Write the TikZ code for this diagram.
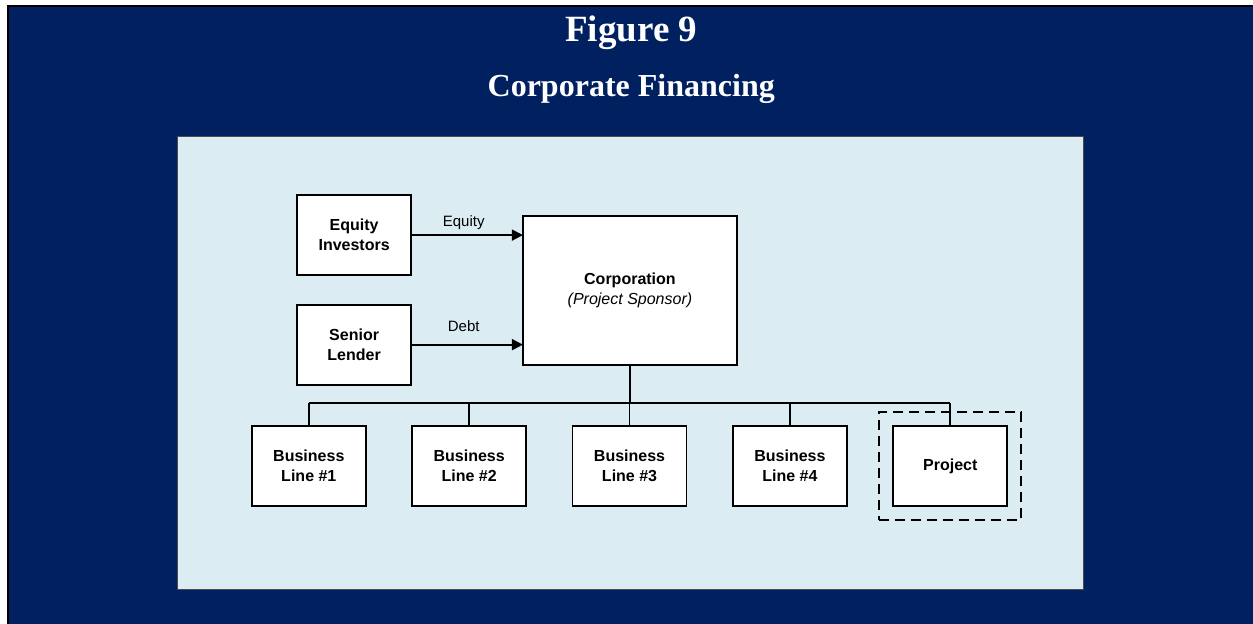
\documentclass[tikz,border=0pt]{standalone}
\usepackage{fontspec}
\setmainfont{Liberation Sans}
\newfontfamily\titlefont{Liberation Serif}
\usepackage{xcolor}
\usetikzlibrary{positioning,arrows.meta,fit}
\definecolor{navyframe}{RGB}{0,32,96}
\definecolor{panelblue}{RGB}{219,237,243}

\begin{document}
\begin{tikzpicture}[x=1pt,y=-1pt,
    box/.style={draw,line width=1.8pt,fill=white,minimum width=114pt,minimum height=80pt,
        outer sep=0pt,align=center,font=\fontsize{16}{20}\selectfont\bfseries},
    flow/.style={line width=1.8pt,-{Triangle[length=11pt,width=11pt]}},
    flowlabel/.style={anchor=base,font=\fontsize{15}{18}\selectfont}]
    \useasboundingbox (0,0) rectangle (1252.5,623);

    % Frame and panel
    \draw[line width=2pt,fill=navyframe] (8,6) rectangle (1280,650);
    \draw[line width=1pt,draw=black!70,fill=panelblue] (177.5,136.5) rectangle (1083,589);

    % Titles
    \node[white,anchor=base,font=\titlefont\bfseries\fontsize{37}{40}\selectfont] (fig) at (631,41) {Figure 9};
    \node[white,anchor=base,font=\titlefont\bfseries\fontsize{32}{36}\selectfont] (heading) at (631,96) {Corporate Financing};

    % Sources of funds
    \node[box] (equity) at (354,235) {Equity\\Investors};
    \node[box] (lender) at (354,344.5) {Senior\\Lender};
    \node[box,minimum width=214pt,minimum height=149pt] (corp) at (629.7,290.5)
        {Corporation\\{\mdseries\itshape (Project Sponsor)}};

    \draw[flow] (equity.east) -- (equity.east -| corp.west)
        node[flowlabel,pos=0.47,yshift=9pt] (eqlabel) {Equity};
    \draw[flow] (lender.east) -- (lender.east -| corp.west)
        node[flowlabel,pos=0.47,yshift=13pt] (debtlabel) {Debt};

    % Business lines
    \node[box] (line1) at (308.7,466) {Business\\Line \#1};
    \node[box,right=46.3pt of line1] (line2) {Business\\Line \#2};
    \node[box,right=46.3pt of line2] (line3) {Business\\Line \#3};
    \node[box,right=46.3pt of line3] (line4) {Business\\Line \#4};
    \node[box,right=46.3pt of line4] (proj) {Project};
    \node[draw,line width=1.8pt,dash pattern=on 10pt off 6pt,fit=(proj),inner sep=14pt] (ring) {};

    % Tree
    \draw[line width=2.6pt] (corp.south) -- ++(0,38) coordinate (hub);
    \draw[line width=1.8pt] (hub -| line1.north) -- (hub -| proj.north);
    \foreach \b in {line1,line2,line3,line4,proj} {
        \draw[line width=1.8pt] (hub -| \b.north) -- (\b.north);
    }
\end{tikzpicture}
\end{document}
